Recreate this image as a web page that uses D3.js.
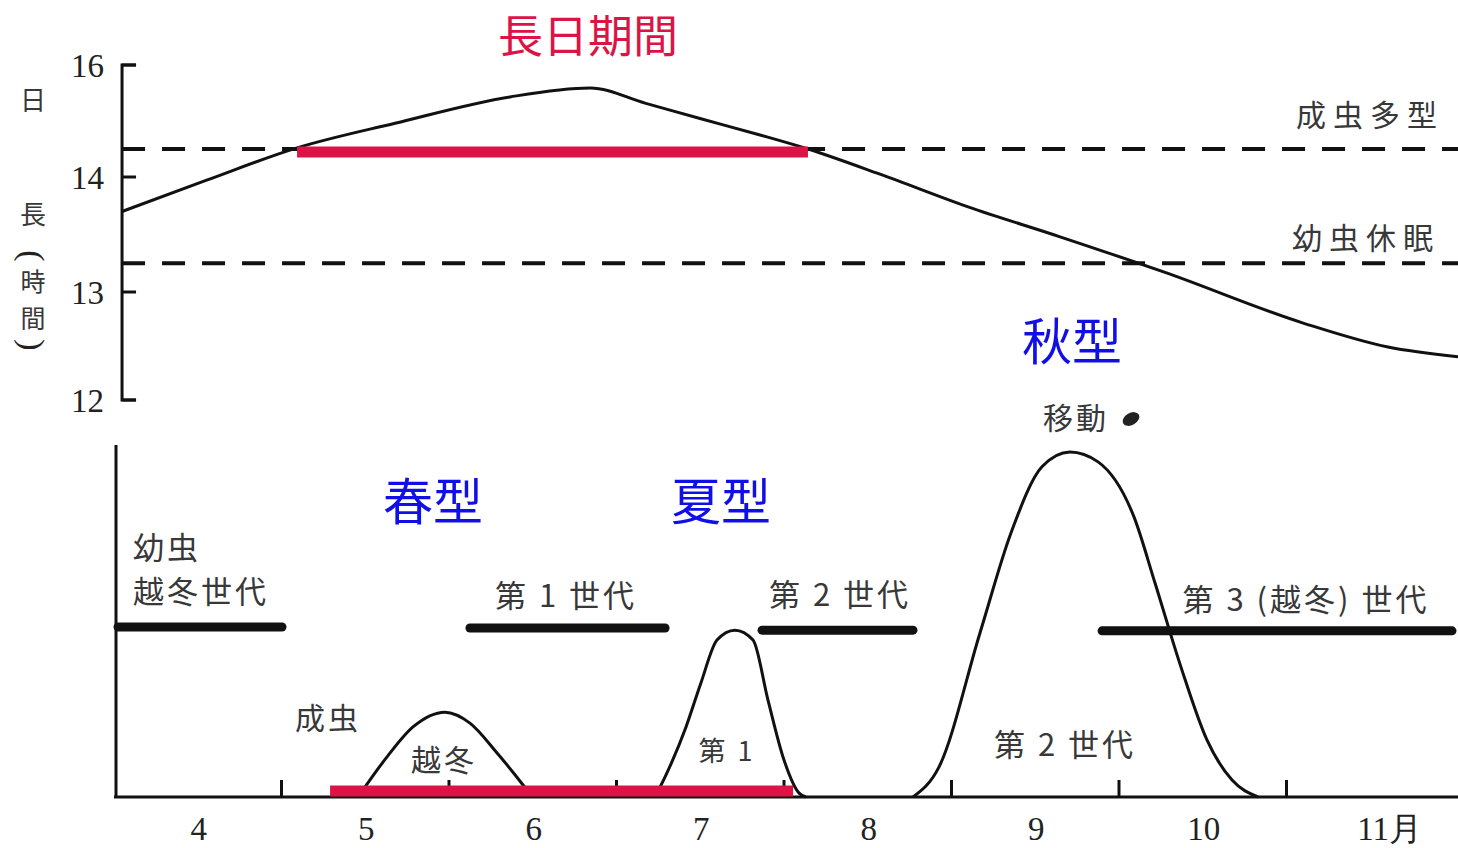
<!DOCTYPE html>
<meta charset="utf-8">
<style>
body { margin: 0; background: #fff; }
.cjk { font-family: "Noto Sans CJK JP", sans-serif; fill: #383838; }
.num { font-family: "Liberation Serif", "DejaVu Serif", serif; fill: #222; }
.axis { stroke: #111; stroke-width: 3; fill: none; }
.dash { stroke: #111; stroke-width: 4; stroke-dasharray: 23,17; }
.curve { stroke: #111; stroke-width: 3; fill: none; }
.bar { stroke: #111; stroke-width: 9; stroke-linecap: round; }
</style>
<div class="chart"></div>
<script src="https://cdn.jsdelivr.net/npm/d3@7"></script>
<script>

// month axis
var monthTicks = [5, 6, 7, 8, 9, 10, 11];
var monthLabels = ["4", "5", "6", "7", "8", "9", "10", "11月"];

// day length panel (hours)
var hourTicks = [16, 14, 13, 12];
var hourTitle = ["日", "長", "(", "時", "間", ")"];
var dayMonth = [4.048, 4.549, 5.093, 5.678, 6.364, 6.842, 7.170, 7.504, 7.857, 8.143, 8.573, 9.099, 9.648, 10.275, 11.104, 11.606, 12.024];
var dayHours = [13.70, 13.97, 14.52, 14.96, 15.43, 15.59, 15.32, 15.04, 14.75, 14.50, 14.05, 13.74, 13.48, 13.17, 12.71, 12.49, 12.40];
var thresholds = [14.5, 13.25];
var thresholdNames = ["成虫多型", "幼虫休眠"];
var longDay = [5.093, 8.143];

// abundance panel
var hump1Month = [5.457, 5.630, 5.785, 5.976, 6.125, 6.287, 6.442, 6.496];
var hump1Value = [0, 11.4, 19.9, 24.1, 21.0, 12.5, 3.4, 0];
var hump2Month = [7.230, 7.290, 7.415, 7.504, 7.600, 7.707, 7.815, 7.904, 8.000, 8.090, 8.131];
var hump2Value = [0, 5.7, 19.9, 32.4, 44.6, 47.4, 44.6, 27.6, 10.5, 1.1, 0];
var hump3Month = [8.770, 8.925, 9.170, 9.355, 9.540, 9.707, 9.875, 10.090, 10.215, 10.370, 10.525, 10.675, 10.830];
var hump3Value = [0, 8.5, 46.6, 75, 93.8, 98, 95.2, 79.5, 60.8, 36.9, 16.2, 4.8, 0];
var genNames = ["越冬世代", "第 1 世代", "第 2 世代", "第 3 (越冬) 世代"];
var genStart = [4.024, 6.125, 7.869, 9.899];
var genEnd = [5.003, 7.290, 8.770, 11.988];
var genLevel = [48.3, 48.0, 47.4, 47.2];
var larvaLate = [5.290, 8.054];

var width = 1458, height = 848;

var svg = d3.select(".chart").append("svg")
    .attr("width", width)
    .attr("height", height)
    .style("display", "block");

var x = d3.scaleLinear().domain([4, 12]).range([114, 1454]);
// the printed hour axis is not linear, so map it piece by piece
var yTop = d3.scaleLinear().domain([12, 13, 14, 16]).range([400, 292, 177, 65]);
var yBot = d3.scaleLinear().domain([0, 100]).range([797, 445]);

var topAxisX = x(4.048);

// ---- top panel ----
var upper = svg.append("g");

upper.append("path")
    .attr("class", "axis")
    .attr("d", "M" + (topAxisX + 14) + "," + yTop(16) + "H" + topAxisX +
      "V" + yTop(12) + "H" + (topAxisX + 14));

upper.selectAll(".htick")
    .data(hourTicks.concat([thresholds[0]]))
    .enter().append("line")
    .attr("class", "axis")
    .attr("x1", topAxisX).attr("x2", topAxisX + 14)
    .attr("y1", function(d) { return yTop(d); })
    .attr("y2", function(d) { return yTop(d); });

upper.selectAll(".hlabel")
    .data(hourTicks)
    .enter().append("text")
    .attr("class", "num")
    .attr("x", topAxisX - 18)
    .attr("y", function(d) { return yTop(d); })
    .attr("dy", "0.35em")
    .style("text-anchor", "end")
    .style("font-size", "33px")
    .text(function(d) { return d; });

// vertical axis title, brackets turned on their side
var titleY = [101, 215, 256, 282, 319, 345];
var titleSize = [26, 26, 34, 25, 25, 34];
upper.selectAll(".htitle")
    .data(hourTitle)
    .enter().append("text")
    .attr("class", function(d) { return d < "~" ? "num" : "cjk"; })
    .attr("transform", function(d, i) {
      var t = "translate(33," + titleY[i] + ")";
      return d < "~" ? t + " rotate(90)" : t;
    })
    .attr("dy", "0.35em")
    .style("text-anchor", "middle")
    .style("font-size", function(d, i) { return titleSize[i] + "px"; })
    .text(function(d) { return d; });

upper.selectAll(".dash")
    .data(thresholds)
    .enter().append("line")
    .attr("class", "dash")
    .attr("x1", topAxisX).attr("x2", width)
    .attr("y1", function(d) { return yTop(d); })
    .attr("y2", function(d) { return yTop(d); });

var nameY = [115, 238];
var nameX = [1370, 1366];
upper.selectAll(".tname")
    .data(thresholdNames)
    .enter().append("text")
    .attr("class", "cjk")
    .attr("x", function(d, i) { return nameX[i]; })
    .attr("y", function(d, i) { return nameY[i]; })
    .attr("dy", "0.35em")
    .style("text-anchor", "middle")
    .style("font-size", "30px")
    .style("letter-spacing", "7px")
    .text(function(d) { return d; });

var dayLine = d3.line()
    .x(function(d, i) { return x(dayMonth[i]); })
    .y(function(d) { return yTop(d); })
    .curve(d3.curveMonotoneX);

upper.append("path")
    .attr("class", "curve")
    .attr("d", dayLine(dayHours));

upper.append("line")
    .attr("x1", x(longDay[0])).attr("x2", x(longDay[1]))
    .attr("y1", yTop(thresholds[0]) + 3).attr("y2", yTop(thresholds[0]) + 3)
    .style("stroke", "#dc1446")
    .style("stroke-width", 11);

upper.append("text")
    .attr("x", 588)
    .attr("y", 37)
    .attr("dy", "0.35em")
    .style("text-anchor", "middle")
    .style("font-family", "'Noto Sans CJK JP', sans-serif")
    .style("font-size", "45px")
    .style("fill", "#dc1446")
    .text("長日期間");

// ---- bottom panel ----
var lower = svg.append("g");

lower.append("line")
    .attr("class", "axis")
    .attr("x1", x(4) + 2).attr("x2", x(4) + 2)
    .attr("y1", yBot(100)).attr("y2", yBot(0));

lower.append("line")
    .attr("class", "axis")
    .attr("x1", x(4)).attr("x2", width)
    .attr("y1", yBot(0)).attr("y2", yBot(0));

lower.selectAll(".mtick")
    .data(monthTicks)
    .enter().append("line")
    .attr("class", "axis")
    .attr("x1", function(d) { return x(d); })
    .attr("x2", function(d) { return x(d); })
    .attr("y1", yBot(0)).attr("y2", yBot(0) - 17);

lower.selectAll(".mlabel")
    .data(monthLabels)
    .enter().append("text")
    .attr("class", "num")
    .attr("x", function(d, i) {
      var cx = x(4.5 + i) + 1;
      return d.length > 2 ? cx - 14 : cx;
    })
    .attr("y", 828)
    .attr("dy", "0.35em")
    .style("text-anchor", function(d) { return d.length > 2 ? "start" : "middle"; })
    .style("font-size", "33px")
    .text(function(d) { return d; });

var humpLine = function(months) {
  return d3.line()
      .x(function(d, i) { return x(months[i]); })
      .y(function(d) { return yBot(d); })
      .curve(d3.curveMonotoneX);
};

lower.append("path").attr("class", "curve").attr("d", humpLine(hump1Month)(hump1Value));
lower.append("path").attr("class", "curve").attr("d", humpLine(hump2Month)(hump2Value));
lower.append("path").attr("class", "curve").attr("d", humpLine(hump3Month)(hump3Value));

lower.selectAll(".bar")
    .data(genNames)
    .enter().append("line")
    .attr("class", "bar")
    .attr("x1", function(d, i) { return x(genStart[i]); })
    .attr("x2", function(d, i) { return x(genEnd[i]); })
    .attr("y1", function(d, i) { return yBot(genLevel[i]); })
    .attr("y2", function(d, i) { return yBot(genLevel[i]); });

// generation labels above the bars
var genLabelX = [133, 566, 840, 1306];
var genLabelY = [592, 596, 595, 600];
lower.selectAll(".gname")
    .data(genNames)
    .enter().append("text")
    .attr("class", "cjk")
    .attr("x", function(d, i) { return genLabelX[i]; })
    .attr("y", function(d, i) { return genLabelY[i]; })
    .attr("dy", "0.35em")
    .style("text-anchor", function(d, i) { return i === 0 ? "start" : "middle"; })
    .style("font-size", "31px")
    .style("letter-spacing", "3px")
    .text(function(d) { return d; });

var notes = [
  {t: "幼虫", x: 133, y: 548, a: "start", s: 31},
  {t: "成虫", x: 328, y: 718, a: "middle", s: 30},
  {t: "越冬", x: 444, y: 760, a: "middle", s: 30},
  {t: "第 1", x: 727, y: 752, a: "middle", s: 27},
  {t: "第 2 世代", x: 1065, y: 745, a: "middle", s: 31},
  {t: "移動", x: 1076, y: 418, a: "middle", s: 30}
];
lower.selectAll(".note")
    .data(notes)
    .enter().append("text")
    .attr("class", "cjk")
    .attr("x", function(d) { return d.x; })
    .attr("y", function(d) { return d.y; })
    .attr("dy", "0.35em")
    .style("text-anchor", function(d) { return d.a; })
    .style("font-size", function(d) { return d.s + "px"; })
    .style("letter-spacing", "3px")
    .text(function(d) { return d.t; });

lower.append("ellipse")
    .attr("cx", 1131).attr("cy", 419)
    .attr("rx", 9).attr("ry", 6)
    .attr("transform", "rotate(-30,1131,419)")
    .style("fill", "#222");

lower.append("line")
    .attr("x1", x(larvaLate[0])).attr("x2", x(larvaLate[1]))
    .attr("y1", yBot(0) - 6).attr("y2", yBot(0) - 6)
    .style("stroke", "#dc1446")
    .style("stroke-width", 11);

// season forms
var seasons = [
  {t: "春型", x: 433, y: 502},
  {t: "夏型", x: 721, y: 502},
  {t: "秋型", x: 1072, y: 342}
];
svg.selectAll(".season")
    .data(seasons)
    .enter().append("text")
    .attr("x", function(d) { return d.x; })
    .attr("y", function(d) { return d.y; })
    .attr("dy", "0.35em")
    .style("text-anchor", "middle")
    .style("font-family", "'Noto Sans CJK JP', sans-serif")
    .style("font-size", "50px")
    .style("fill", "#1010e6")
    .text(function(d) { return d.t; });

</script>
